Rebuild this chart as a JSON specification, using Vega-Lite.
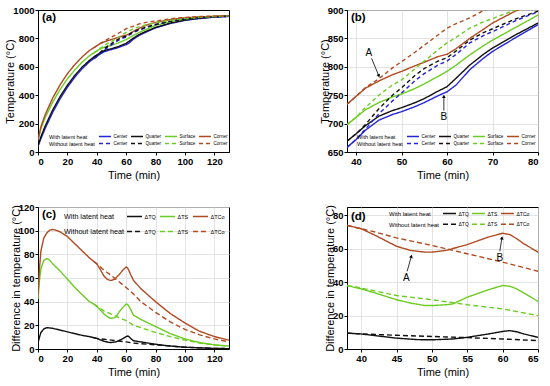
{
  "$schema": "https://vega.github.io/schema/vega-lite/v6.json",
  "padding": {"left": 4, "top": 4, "right": 5, "bottom": 4},
  "background": "white",
  "datasets": {
    "ab": [
      {"t":0,"v":40,"s":"Cw"},{"t":2,"v":94,"s":"Cw"},{"t":5,"v":169,"s":"Cw"},{"t":10,"v":279,"s":"Cw"},{"t":15,"v":374,"s":"Cw"},{"t":20,"v":456,"s":"Cw"},{"t":25,"v":526,"s":"Cw"},{"t":30,"v":586,"s":"Cw"},{"t":35,"v":635,"s":"Cw"},{"t":38,"v":658,"s":"Cw"},{"t":40,"v":672,"s":"Cw"},{"t":42,"v":688,"s":"Cw"},{"t":45,"v":706,"s":"Cw"},{"t":48,"v":716,"s":"Cw"},{"t":50,"v":721,"s":"Cw"},{"t":53,"v":730,"s":"Cw"},{"t":55,"v":737,"s":"Cw"},{"t":58,"v":749,"s":"Cw"},{"t":60,"v":756,"s":"Cw"},{"t":62,"v":768,"s":"Cw"},{"t":65,"v":795,"s":"Cw"},{"t":68,"v":815,"s":"Cw"},{"t":70,"v":827,"s":"Cw"},{"t":75,"v":851,"s":"Cw"},{"t":80,"v":874,"s":"Cw"},{"t":90,"v":905,"s":"Cw"},{"t":100,"v":927,"s":"Cw"},{"t":110,"v":940,"s":"Cw"},{"t":120,"v":950,"s":"Cw"},{"t":130,"v":955,"s":"Cw"},
      {"t":0,"v":45,"s":"Qw"},{"t":2,"v":108,"s":"Qw"},{"t":5,"v":186,"s":"Qw"},{"t":10,"v":296,"s":"Qw"},{"t":15,"v":390,"s":"Qw"},{"t":20,"v":470,"s":"Qw"},{"t":25,"v":539,"s":"Qw"},{"t":30,"v":598,"s":"Qw"},{"t":35,"v":645,"s":"Qw"},{"t":38,"v":669,"s":"Qw"},{"t":40,"v":682,"s":"Qw"},{"t":42,"v":696,"s":"Qw"},{"t":45,"v":713,"s":"Qw"},{"t":48,"v":723,"s":"Qw"},{"t":50,"v":728,"s":"Qw"},{"t":53,"v":737,"s":"Qw"},{"t":55,"v":744,"s":"Qw"},{"t":58,"v":757,"s":"Qw"},{"t":60,"v":765,"s":"Qw"},{"t":62,"v":780,"s":"Qw"},{"t":65,"v":803,"s":"Qw"},{"t":68,"v":822,"s":"Qw"},{"t":70,"v":833,"s":"Qw"},{"t":75,"v":856,"s":"Qw"},{"t":80,"v":877,"s":"Qw"},{"t":90,"v":908,"s":"Qw"},{"t":100,"v":929,"s":"Qw"},{"t":110,"v":942,"s":"Qw"},{"t":120,"v":951,"s":"Qw"},{"t":130,"v":956,"s":"Qw"},
      {"t":0,"v":82,"s":"Sw"},{"t":2,"v":164,"s":"Sw"},{"t":5,"v":245,"s":"Sw"},{"t":10,"v":351,"s":"Sw"},{"t":15,"v":440,"s":"Sw"},{"t":20,"v":515,"s":"Sw"},{"t":25,"v":578,"s":"Sw"},{"t":30,"v":632,"s":"Sw"},{"t":35,"v":678,"s":"Sw"},{"t":38,"v":698,"s":"Sw"},{"t":40,"v":711,"s":"Sw"},{"t":42,"v":724,"s":"Sw"},{"t":45,"v":737,"s":"Sw"},{"t":48,"v":747,"s":"Sw"},{"t":50,"v":752,"s":"Sw"},{"t":53,"v":762,"s":"Sw"},{"t":55,"v":770,"s":"Sw"},{"t":58,"v":783,"s":"Sw"},{"t":60,"v":792,"s":"Sw"},{"t":62,"v":803,"s":"Sw"},{"t":65,"v":821,"s":"Sw"},{"t":68,"v":837,"s":"Sw"},{"t":70,"v":847,"s":"Sw"},{"t":75,"v":869,"s":"Sw"},{"t":80,"v":891,"s":"Sw"},{"t":90,"v":918,"s":"Sw"},{"t":100,"v":937,"s":"Sw"},{"t":110,"v":948,"s":"Sw"},{"t":120,"v":954,"s":"Sw"},{"t":130,"v":957,"s":"Sw"},
      {"t":0,"v":85,"s":"Kw"},{"t":2,"v":179,"s":"Kw"},{"t":5,"v":266,"s":"Kw"},{"t":10,"v":380,"s":"Kw"},{"t":15,"v":473,"s":"Kw"},{"t":20,"v":551,"s":"Kw"},{"t":25,"v":615,"s":"Kw"},{"t":30,"v":669,"s":"Kw"},{"t":35,"v":715,"s":"Kw"},{"t":38,"v":734,"s":"Kw"},{"t":40,"v":748,"s":"Kw"},{"t":42,"v":762,"s":"Kw"},{"t":45,"v":775,"s":"Kw"},{"t":48,"v":786,"s":"Kw"},{"t":50,"v":792,"s":"Kw"},{"t":53,"v":802,"s":"Kw"},{"t":55,"v":808,"s":"Kw"},{"t":58,"v":818,"s":"Kw"},{"t":60,"v":822,"s":"Kw"},{"t":62,"v":832,"s":"Kw"},{"t":65,"v":850,"s":"Kw"},{"t":68,"v":866,"s":"Kw"},{"t":70,"v":877,"s":"Kw"},{"t":75,"v":898,"s":"Kw"},{"t":80,"v":912,"s":"Kw"},{"t":90,"v":933,"s":"Kw"},{"t":100,"v":945,"s":"Kw"},{"t":110,"v":952,"s":"Kw"},{"t":120,"v":956,"s":"Kw"},{"t":130,"v":958,"s":"Kw"},
      {"t":38,"v":658,"s":"Cn"},{"t":40,"v":672,"s":"Cn"},{"t":42,"v":690,"s":"Cn"},{"t":45,"v":717,"s":"Cn"},{"t":48,"v":740,"s":"Cn"},{"t":50,"v":754,"s":"Cn"},{"t":53,"v":776,"s":"Cn"},{"t":55,"v":788,"s":"Cn"},{"t":58,"v":803,"s":"Cn"},{"t":60,"v":810,"s":"Cn"},{"t":62,"v":822,"s":"Cn"},{"t":65,"v":842,"s":"Cn"},{"t":68,"v":855,"s":"Cn"},{"t":70,"v":862,"s":"Cn"},{"t":75,"v":881,"s":"Cn"},{"t":80,"v":897,"s":"Cn"},{"t":90,"v":920,"s":"Cn"},{"t":100,"v":936,"s":"Cn"},{"t":110,"v":946,"s":"Cn"},{"t":120,"v":952,"s":"Cn"},{"t":130,"v":956,"s":"Cn"},
      {"t":38,"v":669,"s":"Qn"},{"t":40,"v":682,"s":"Qn"},{"t":42,"v":698,"s":"Qn"},{"t":45,"v":726,"s":"Qn"},{"t":48,"v":750,"s":"Qn"},{"t":50,"v":763,"s":"Qn"},{"t":53,"v":785,"s":"Qn"},{"t":55,"v":797,"s":"Qn"},{"t":58,"v":810,"s":"Qn"},{"t":60,"v":816,"s":"Qn"},{"t":62,"v":828,"s":"Qn"},{"t":65,"v":847,"s":"Qn"},{"t":68,"v":860,"s":"Qn"},{"t":70,"v":867,"s":"Qn"},{"t":75,"v":884,"s":"Qn"},{"t":80,"v":898,"s":"Qn"},{"t":90,"v":921,"s":"Qn"},{"t":100,"v":937,"s":"Qn"},{"t":110,"v":947,"s":"Qn"},{"t":120,"v":953,"s":"Qn"},{"t":130,"v":957,"s":"Qn"},
      {"t":38,"v":698,"s":"Sn"},{"t":40,"v":711,"s":"Sn"},{"t":42,"v":728,"s":"Sn"},{"t":45,"v":750,"s":"Sn"},{"t":48,"v":768,"s":"Sn"},{"t":50,"v":777,"s":"Sn"},{"t":53,"v":797,"s":"Sn"},{"t":55,"v":810,"s":"Sn"},{"t":58,"v":830,"s":"Sn"},{"t":60,"v":842,"s":"Sn"},{"t":62,"v":852,"s":"Sn"},{"t":65,"v":868,"s":"Sn"},{"t":68,"v":879,"s":"Sn"},{"t":70,"v":885,"s":"Sn"},{"t":75,"v":900,"s":"Sn"},{"t":80,"v":910,"s":"Sn"},{"t":90,"v":928,"s":"Sn"},{"t":100,"v":941,"s":"Sn"},{"t":110,"v":950,"s":"Sn"},{"t":120,"v":955,"s":"Sn"},{"t":130,"v":958,"s":"Sn"},
      {"t":38,"v":734,"s":"Kn"},{"t":40,"v":748,"s":"Kn"},{"t":42,"v":763,"s":"Kn"},{"t":45,"v":779,"s":"Kn"},{"t":48,"v":798,"s":"Kn"},{"t":50,"v":809,"s":"Kn"},{"t":53,"v":826,"s":"Kn"},{"t":55,"v":838,"s":"Kn"},{"t":58,"v":856,"s":"Kn"},{"t":60,"v":868,"s":"Kn"},{"t":62,"v":876,"s":"Kn"},{"t":65,"v":886,"s":"Kn"},{"t":68,"v":899,"s":"Kn"},{"t":70,"v":905,"s":"Kn"},{"t":75,"v":916,"s":"Kn"},{"t":80,"v":923,"s":"Kn"},{"t":90,"v":938,"s":"Kn"},{"t":100,"v":948,"s":"Kn"},{"t":110,"v":954,"s":"Kn"},{"t":120,"v":957,"s":"Kn"},{"t":130,"v":959,"s":"Kn"}
    ],
    "cd": [
      {"t":0,"v":5,"s":"Qw"},{"t":1,"v":10,"s":"Qw"},{"t":2,"v":14,"s":"Qw"},{"t":4,"v":17,"s":"Qw"},{"t":6,"v":18,"s":"Qw"},{"t":10,"v":17.5,"s":"Qw"},{"t":15,"v":16,"s":"Qw"},{"t":20,"v":14.5,"s":"Qw"},{"t":25,"v":13,"s":"Qw"},{"t":30,"v":11.5,"s":"Qw"},{"t":35,"v":10.5,"s":"Qw"},{"t":38,"v":9.5,"s":"Qw"},{"t":40,"v":9,"s":"Qw"},{"t":42,"v":8,"s":"Qw"},{"t":45,"v":6.5,"s":"Qw"},{"t":48,"v":5.6,"s":"Qw"},{"t":50,"v":5.5,"s":"Qw"},{"t":53,"v":6,"s":"Qw"},{"t":55,"v":7,"s":"Qw"},{"t":58,"v":9,"s":"Qw"},{"t":60,"v":10.5,"s":"Qw"},{"t":61,"v":11,"s":"Qw"},{"t":62,"v":10.3,"s":"Qw"},{"t":63,"v":9,"s":"Qw"},{"t":65,"v":7,"s":"Qw"},{"t":70,"v":6,"s":"Qw"},{"t":80,"v":4,"s":"Qw"},{"t":90,"v":2.5,"s":"Qw"},{"t":100,"v":1.5,"s":"Qw"},{"t":110,"v":1,"s":"Qw"},{"t":120,"v":0.5,"s":"Qw"},{"t":130,"v":0.3,"s":"Qw"},
      {"t":0,"v":42,"s":"Sw"},{"t":1,"v":58,"s":"Sw"},{"t":2,"v":68,"s":"Sw"},{"t":4,"v":75,"s":"Sw"},{"t":6,"v":76.5,"s":"Sw"},{"t":8,"v":75,"s":"Sw"},{"t":10,"v":72,"s":"Sw"},{"t":15,"v":66,"s":"Sw"},{"t":20,"v":59,"s":"Sw"},{"t":25,"v":52,"s":"Sw"},{"t":30,"v":46,"s":"Sw"},{"t":35,"v":40,"s":"Sw"},{"t":38,"v":38,"s":"Sw"},{"t":40,"v":36,"s":"Sw"},{"t":42,"v":33.5,"s":"Sw"},{"t":45,"v":29.5,"s":"Sw"},{"t":47,"v":27.5,"s":"Sw"},{"t":49,"v":26,"s":"Sw"},{"t":50,"v":26,"s":"Sw"},{"t":52,"v":26.5,"s":"Sw"},{"t":53,"v":27,"s":"Sw"},{"t":55,"v":31,"s":"Sw"},{"t":58,"v":35.5,"s":"Sw"},{"t":60,"v":38,"s":"Sw"},{"t":61,"v":37.6,"s":"Sw"},{"t":62,"v":36,"s":"Sw"},{"t":63,"v":33.5,"s":"Sw"},{"t":65,"v":28.5,"s":"Sw"},{"t":70,"v":25,"s":"Sw"},{"t":80,"v":19,"s":"Sw"},{"t":90,"v":13,"s":"Sw"},{"t":100,"v":8.5,"s":"Sw"},{"t":110,"v":5.5,"s":"Sw"},{"t":120,"v":3.5,"s":"Sw"},{"t":130,"v":2.5,"s":"Sw"},
      {"t":0,"v":45,"s":"Kw"},{"t":1,"v":68,"s":"Kw"},{"t":2,"v":83,"s":"Kw"},{"t":4,"v":94,"s":"Kw"},{"t":6,"v":98,"s":"Kw"},{"t":8,"v":100.5,"s":"Kw"},{"t":10,"v":101,"s":"Kw"},{"t":12,"v":100.5,"s":"Kw"},{"t":15,"v":99,"s":"Kw"},{"t":20,"v":95,"s":"Kw"},{"t":25,"v":89,"s":"Kw"},{"t":30,"v":83,"s":"Kw"},{"t":35,"v":77,"s":"Kw"},{"t":38,"v":74,"s":"Kw"},{"t":40,"v":72,"s":"Kw"},{"t":42,"v":68,"s":"Kw"},{"t":45,"v":61.5,"s":"Kw"},{"t":47,"v":59,"s":"Kw"},{"t":49,"v":58,"s":"Kw"},{"t":50,"v":58,"s":"Kw"},{"t":52,"v":59,"s":"Kw"},{"t":55,"v":62.5,"s":"Kw"},{"t":58,"v":67,"s":"Kw"},{"t":60,"v":69.3,"s":"Kw"},{"t":61,"v":68.5,"s":"Kw"},{"t":62,"v":66,"s":"Kw"},{"t":63,"v":63,"s":"Kw"},{"t":65,"v":58,"s":"Kw"},{"t":70,"v":51,"s":"Kw"},{"t":80,"v":40,"s":"Kw"},{"t":90,"v":30,"s":"Kw"},{"t":100,"v":22,"s":"Kw"},{"t":110,"v":15,"s":"Kw"},{"t":120,"v":10.5,"s":"Kw"},{"t":130,"v":7.5,"s":"Kw"},
      {"t":38,"v":9.5,"s":"Qn"},{"t":40,"v":9,"s":"Qn"},{"t":42,"v":8.7,"s":"Qn"},{"t":45,"v":8.2,"s":"Qn"},{"t":50,"v":7.5,"s":"Qn"},{"t":55,"v":6.8,"s":"Qn"},{"t":60,"v":6,"s":"Qn"},{"t":65,"v":5,"s":"Qn"},{"t":70,"v":4.5,"s":"Qn"},{"t":80,"v":3.5,"s":"Qn"},{"t":90,"v":2.5,"s":"Qn"},{"t":100,"v":1.5,"s":"Qn"},{"t":110,"v":1,"s":"Qn"},{"t":120,"v":0.5,"s":"Qn"},{"t":130,"v":0.3,"s":"Qn"},
      {"t":38,"v":38,"s":"Sn"},{"t":40,"v":36.5,"s":"Sn"},{"t":45,"v":32,"s":"Sn"},{"t":50,"v":29.5,"s":"Sn"},{"t":55,"v":26.5,"s":"Sn"},{"t":60,"v":24,"s":"Sn"},{"t":65,"v":20,"s":"Sn"},{"t":70,"v":18,"s":"Sn"},{"t":80,"v":14,"s":"Sn"},{"t":90,"v":10.5,"s":"Sn"},{"t":100,"v":7.5,"s":"Sn"},{"t":110,"v":5,"s":"Sn"},{"t":120,"v":3.5,"s":"Sn"},{"t":130,"v":2.5,"s":"Sn"},
      {"t":38,"v":74,"s":"Kn"},{"t":40,"v":72,"s":"Kn"},{"t":42,"v":70,"s":"Kn"},{"t":45,"v":66.5,"s":"Kn"},{"t":50,"v":62,"s":"Kn"},{"t":55,"v":57,"s":"Kn"},{"t":60,"v":52,"s":"Kn"},{"t":65,"v":46.5,"s":"Kn"},{"t":70,"v":40,"s":"Kn"},{"t":80,"v":31,"s":"Kn"},{"t":90,"v":23,"s":"Kn"},{"t":100,"v":16.5,"s":"Kn"},{"t":110,"v":12,"s":"Kn"},{"t":120,"v":8.5,"s":"Kn"},{"t":130,"v":6,"s":"Kn"}
    ]
  },
  "columns": 2,
  "bounds": "flush",
  "spacing": {"row": 55, "column": 118},
  "resolve": {"scale": {"color": "independent", "strokeDash": "independent", "x": "independent", "y": "independent"}, "legend": {"color": "independent", "strokeDash": "independent"}},
  "concat": [
    {
      "width": 191, "height": 142,
      "title": {"text": "(a)", "anchor": "start", "frame": "group", "offset": -18, "dx": 4, "fontSize": 11.5, "fontWeight": "bold", "font": "Liberation Sans"},
      "layer": [
        {
          "data": {"name": "ab"},
          "mark": {"type": "line", "clip": true, "strokeWidth": 1.4},
          "encoding": {
            "x": {"field": "t", "type": "quantitative", "scale": {"domain": [0, 130], "nice": false}, "axis": {"title": "Time (min)", "values": [0, 20, 40, 60, 80, 100, 120], "grid": false, "format": "d", "labelOverlap": false}},
            "y": {"field": "v", "type": "quantitative", "scale": {"domain": [0, 1000], "nice": false}, "axis": {"title": "Temperature (°C)", "values": [0, 200, 400, 600, 800, 1000], "grid": false, "format": "d", "labelOverlap": false}},
            "color": {"field": "s", "type": "nominal", "scale": {"domain": ["Cw","Qw","Sw","Kw","Cn","Qn","Sn","Kn"], "range": ["#2424d8","#111111","#6ccc22","#b04a22","#2424d8","#111111","#6ccc22","#b04a22"]},
              "legend": {"title": ["With latent heat", "Without latent heat"], "titleOrient": "left", "titleAnchor": "middle", "titleBaseline": "middle", "orient": "none", "legendX": 11, "legendY": 123, "direction": "horizontal", "columns": 4, "symbolType": "stroke", "symbolSize": 144, "symbolStrokeWidth": 1.4, "clipHeight": 7, "labelFontSize": 4.6, "titleFontSize": 5.5, "titleFontWeight": "normal", "titleLineHeight": 7, "rowPadding": 0, "columnPadding": 2, "labelOffset": 1.5, "padding": 0, "titlePadding": 3,
                "labelExpr": "substring(datum.label,0,1)=='C' ? 'Center' : substring(datum.label,0,1)=='Q' ? 'Quarter' : substring(datum.label,0,1)=='S' ? 'Surface' : 'Corner'"}},
            "strokeDash": {"field": "s", "type": "nominal", "scale": {"domain": ["Cw","Qw","Sw","Kw","Cn","Qn","Sn","Kn"], "range": [[1,0],[1,0],[1,0],[1,0],[4,3],[4,3],[4,3],[4,3]]},
              "legend": {"title": ["With latent heat", "Without latent heat"], "titleOrient": "left", "titleAnchor": "middle", "titleBaseline": "middle", "orient": "none", "legendX": 11, "legendY": 123, "direction": "horizontal", "columns": 4, "symbolType": "stroke", "symbolSize": 144, "symbolStrokeWidth": 1.4, "clipHeight": 7, "labelFontSize": 4.6, "titleFontSize": 5.5, "titleFontWeight": "normal", "titleLineHeight": 7, "rowPadding": 0, "columnPadding": 2, "labelOffset": 1.5, "padding": 0, "titlePadding": 3,
                "labelExpr": "substring(datum.label,0,1)=='C' ? 'Center' : substring(datum.label,0,1)=='Q' ? 'Quarter' : substring(datum.label,0,1)=='S' ? 'Surface' : 'Corner'"}}
          }
        }
      ]
    },
    {
      "width": 191, "height": 142,
      "title": {"text": "(b)", "anchor": "start", "frame": "group", "offset": -18, "dx": 4, "fontSize": 11.5, "fontWeight": "bold", "font": "Liberation Sans"},
      "encoding": {
        "x": {"type": "quantitative", "scale": {"domain": [38, 80], "nice": false}, "axis": {"title": "Time (min)", "values": [40, 50, 60, 70, 80], "grid": true, "format": "d", "labelOverlap": false}},
        "y": {"type": "quantitative", "scale": {"domain": [650, 900], "nice": false}, "axis": {"title": "Temperature (°C)", "values": [650, 700, 750, 800, 850, 900], "grid": true, "format": "d", "labelOverlap": false}}
      },
      "layer": [
        {
          "data": {"name": "ab"},
          "mark": {"type": "line", "clip": true, "strokeWidth": 1.4},
          "encoding": {
            "x": {"field": "t", "type": "quantitative", "scale": {"domain": [38, 80], "nice": false}, "axis": {"title": "Time (min)", "values": [40, 50, 60, 70, 80], "grid": true, "format": "d", "labelOverlap": false}},
            "y": {"field": "v", "type": "quantitative", "scale": {"domain": [650, 900], "nice": false}, "axis": {"title": "Temperature (°C)", "values": [650, 700, 750, 800, 850, 900], "grid": true, "format": "d", "labelOverlap": false}},
            "color": {"field": "s", "type": "nominal", "scale": {"domain": ["Cw","Qw","Sw","Kw","Cn","Qn","Sn","Kn"], "range": ["#2424d8","#111111","#6ccc22","#b04a22","#2424d8","#111111","#6ccc22","#b04a22"]},
              "legend": {"title": ["With latent heat", "Without latent heat"], "titleOrient": "left", "titleAnchor": "middle", "titleBaseline": "middle", "orient": "none", "legendX": 10, "legendY": 123, "direction": "horizontal", "columns": 4, "symbolType": "stroke", "symbolSize": 144, "symbolStrokeWidth": 1.4, "clipHeight": 7, "labelFontSize": 4.6, "titleFontSize": 5.5, "titleFontWeight": "normal", "titleLineHeight": 7, "rowPadding": 0, "columnPadding": 2, "labelOffset": 1.5, "padding": 0, "titlePadding": 3,
                "labelExpr": "substring(datum.label,0,1)=='C' ? 'Center' : substring(datum.label,0,1)=='Q' ? 'Quarter' : substring(datum.label,0,1)=='S' ? 'Surface' : 'Corner'"}},
            "strokeDash": {"field": "s", "type": "nominal", "scale": {"domain": ["Cw","Qw","Sw","Kw","Cn","Qn","Sn","Kn"], "range": [[1,0],[1,0],[1,0],[1,0],[4,3],[4,3],[4,3],[4,3]]},
              "legend": {"title": ["With latent heat", "Without latent heat"], "titleOrient": "left", "titleAnchor": "middle", "titleBaseline": "middle", "orient": "none", "legendX": 10, "legendY": 123, "direction": "horizontal", "columns": 4, "symbolType": "stroke", "symbolSize": 144, "symbolStrokeWidth": 1.4, "clipHeight": 7, "labelFontSize": 4.6, "titleFontSize": 5.5, "titleFontWeight": "normal", "titleLineHeight": 7, "rowPadding": 0, "columnPadding": 2, "labelOffset": 1.5, "padding": 0, "titlePadding": 3,
                "labelExpr": "substring(datum.label,0,1)=='C' ? 'Center' : substring(datum.label,0,1)=='Q' ? 'Quarter' : substring(datum.label,0,1)=='S' ? 'Surface' : 'Corner'"}}
          }
        },
        {"data": {"values": [{}]}, "mark": {"type": "text", "fontSize": 10, "font": "Liberation Sans", "color": "black"}, "encoding": {"x": {"datum": 42.8}, "y": {"datum": 824}, "text": {"value": "A"}}},
        {"data": {"values": [{}]}, "mark": {"type": "rule", "strokeWidth": 0.8, "color": "black"}, "encoding": {"x": {"datum": 43.4}, "y": {"datum": 815}, "x2": {"datum": 45.0}, "y2": {"datum": 784}}},
        {"data": {"values": [{}]}, "mark": {"type": "point", "shape": "triangle-up", "filled": true, "size": 14, "angle": 160, "color": "black", "opacity": 1}, "encoding": {"x": {"datum": 45.0}, "y": {"datum": 784}}},
        {"data": {"values": [{}]}, "mark": {"type": "text", "fontSize": 10, "font": "Liberation Sans", "color": "black"}, "encoding": {"x": {"datum": 59.3}, "y": {"datum": 711}, "text": {"value": "B"}}},
        {"data": {"values": [{}]}, "mark": {"type": "rule", "strokeWidth": 0.8, "color": "black"}, "encoding": {"x": {"datum": 59.3}, "y": {"datum": 723}, "x2": {"datum": 59.3}, "y2": {"datum": 748}}},
        {"data": {"values": [{}]}, "mark": {"type": "point", "shape": "triangle-up", "filled": true, "size": 14, "angle": 0, "color": "black", "opacity": 1}, "encoding": {"x": {"datum": 59.3}, "y": {"datum": 748}}}
      ]
    },
    {
      "width": 191, "height": 142,
      "title": {"text": "(c)", "anchor": "start", "frame": "group", "offset": -18, "dx": 4, "fontSize": 11.5, "fontWeight": "bold", "font": "Liberation Sans"},
      "layer": [
        {
          "data": {"name": "cd"},
          "mark": {"type": "line", "clip": true, "strokeWidth": 1.4},
          "encoding": {
            "x": {"field": "t", "type": "quantitative", "scale": {"domain": [0, 130], "nice": false}, "axis": {"title": "Time (min)", "values": [0, 20, 40, 60, 80, 100, 120], "grid": true, "format": "d", "labelOverlap": false}},
            "y": {"field": "v", "type": "quantitative", "scale": {"domain": [0, 120], "nice": false}, "axis": {"title": "Difference in temperature (°C)", "values": [0, 20, 40, 60, 80, 100, 120], "grid": true, "format": "d", "labelOverlap": false}},
            "color": {"field": "s", "type": "nominal", "scale": {"domain": ["Qw","Sw","Kw","Qn","Sn","Kn"], "range": ["#111111","#6ccc22","#b04a22","#111111","#6ccc22","#b04a22"]},
              "legend": {"title": ["With latent heat", "Without latent heat"], "titleOrient": "left", "titleAnchor": "middle", "titleBaseline": "middle", "orient": "none", "legendX": 26, "legendY": 2, "direction": "horizontal", "columns": 3, "symbolType": "stroke", "symbolSize": 225, "symbolStrokeWidth": 1.4, "clipHeight": 15, "labelFontSize": 5.5, "titleFontSize": 7.2, "titleFontWeight": "normal", "titleLineHeight": 15, "rowPadding": 0, "columnPadding": 3, "labelOffset": 1.5, "padding": 0, "titlePadding": 2,
                "labelExpr": "substring(datum.label,0,1)=='Q' ? 'ΔTQ' : substring(datum.label,0,1)=='S' ? 'ΔTS' : 'ΔTCo'"}},
            "strokeDash": {"field": "s", "type": "nominal", "scale": {"domain": ["Qw","Sw","Kw","Qn","Sn","Kn"], "range": [[1,0],[1,0],[1,0],[5,3],[5,3],[5,3]]},
              "legend": {"title": ["With latent heat", "Without latent heat"], "titleOrient": "left", "titleAnchor": "middle", "titleBaseline": "middle", "orient": "none", "legendX": 26, "legendY": 2, "direction": "horizontal", "columns": 3, "symbolType": "stroke", "symbolSize": 225, "symbolStrokeWidth": 1.4, "clipHeight": 15, "labelFontSize": 5.5, "titleFontSize": 7.2, "titleFontWeight": "normal", "titleLineHeight": 15, "rowPadding": 0, "columnPadding": 3, "labelOffset": 1.5, "padding": 0, "titlePadding": 2,
                "labelExpr": "substring(datum.label,0,1)=='Q' ? 'ΔTQ' : substring(datum.label,0,1)=='S' ? 'ΔTS' : 'ΔTCo'"}}
          }
        }
      ]
    },
    {
      "width": 191, "height": 142,
      "title": {"text": "(d)", "anchor": "start", "frame": "group", "offset": -18, "dx": 4, "fontSize": 11.5, "fontWeight": "bold", "font": "Liberation Sans"},
      "encoding": {
        "x": {"type": "quantitative", "scale": {"domain": [38, 65], "nice": false}, "axis": {"title": "Time (min)", "values": [40, 45, 50, 55, 60, 65], "grid": true, "format": "d", "labelOverlap": false}},
        "y": {"type": "quantitative", "scale": {"domain": [0, 85], "nice": false}, "axis": {"title": "Difference in temperature (°C)", "values": [0, 20, 40, 60, 80], "grid": true, "format": "d", "labelOverlap": false}}
      },
      "layer": [
        {
          "data": {"name": "cd"},
          "mark": {"type": "line", "clip": true, "strokeWidth": 1.4},
          "encoding": {
            "x": {"field": "t", "type": "quantitative", "scale": {"domain": [38, 65], "nice": false}, "axis": {"title": "Time (min)", "values": [40, 45, 50, 55, 60, 65], "grid": true, "format": "d", "labelOverlap": false}},
            "y": {"field": "v", "type": "quantitative", "scale": {"domain": [0, 85], "nice": false}, "axis": {"title": "Difference in temperature (°C)", "values": [0, 20, 40, 60, 80], "grid": true, "format": "d", "labelOverlap": false}},
            "color": {"field": "s", "type": "nominal", "scale": {"domain": ["Qw","Sw","Kw","Qn","Sn","Kn"], "range": ["#111111","#6ccc22","#b04a22","#111111","#6ccc22","#b04a22"]},
              "legend": {"title": ["With latent heat", "Without latent heat"], "titleOrient": "left", "titleAnchor": "middle", "titleBaseline": "middle", "orient": "none", "legendX": 42, "legendY": 1, "direction": "horizontal", "columns": 3, "symbolType": "stroke", "symbolSize": 169, "symbolStrokeWidth": 1.4, "clipHeight": 10.5, "labelFontSize": 5, "titleFontSize": 6, "titleFontWeight": "normal", "titleLineHeight": 10.5, "rowPadding": 0, "columnPadding": 2, "labelOffset": 1.5, "padding": 0, "titlePadding": 2,
                "labelExpr": "substring(datum.label,0,1)=='Q' ? 'ΔTQ' : substring(datum.label,0,1)=='S' ? 'ΔTS' : 'ΔTCo'"}},
            "strokeDash": {"field": "s", "type": "nominal", "scale": {"domain": ["Qw","Sw","Kw","Qn","Sn","Kn"], "range": [[1,0],[1,0],[1,0],[5,3],[5,3],[5,3]]},
              "legend": {"title": ["With latent heat", "Without latent heat"], "titleOrient": "left", "titleAnchor": "middle", "titleBaseline": "middle", "orient": "none", "legendX": 42, "legendY": 1, "direction": "horizontal", "columns": 3, "symbolType": "stroke", "symbolSize": 169, "symbolStrokeWidth": 1.4, "clipHeight": 10.5, "labelFontSize": 5, "titleFontSize": 6, "titleFontWeight": "normal", "titleLineHeight": 10.5, "rowPadding": 0, "columnPadding": 2, "labelOffset": 1.5, "padding": 0, "titlePadding": 2,
                "labelExpr": "substring(datum.label,0,1)=='Q' ? 'ΔTQ' : substring(datum.label,0,1)=='S' ? 'ΔTS' : 'ΔTCo'"}}
          }
        },
        {"data": {"values": [{}]}, "mark": {"type": "text", "fontSize": 10, "font": "Liberation Sans", "color": "black"}, "encoding": {"x": {"datum": 46.4}, "y": {"datum": 42.5}, "text": {"value": "A"}}},
        {"data": {"values": [{}]}, "mark": {"type": "rule", "strokeWidth": 0.8, "color": "black"}, "encoding": {"x": {"datum": 46.5}, "y": {"datum": 46.5}, "x2": {"datum": 47.1}, "y2": {"datum": 55.5}}},
        {"data": {"values": [{}]}, "mark": {"type": "point", "shape": "triangle-up", "filled": true, "size": 14, "angle": 18, "color": "black", "opacity": 1}, "encoding": {"x": {"datum": 47.1}, "y": {"datum": 55.5}}},
        {"data": {"values": [{}]}, "mark": {"type": "text", "fontSize": 10, "font": "Liberation Sans", "color": "black"}, "encoding": {"x": {"datum": 59.6}, "y": {"datum": 54.5}, "text": {"value": "B"}}},
        {"data": {"values": [{}]}, "mark": {"type": "rule", "strokeWidth": 0.8, "color": "black"}, "encoding": {"x": {"datum": 59.6}, "y": {"datum": 58.5}, "x2": {"datum": 59.9}, "y2": {"datum": 66.5}}},
        {"data": {"values": [{}]}, "mark": {"type": "point", "shape": "triangle-up", "filled": true, "size": 14, "angle": 6, "color": "black", "opacity": 1}, "encoding": {"x": {"datum": 59.9}, "y": {"datum": 66.5}}}
      ]
    }
  ],
  "config": {
    "font": "Liberation Sans",
    "view": {"stroke": "black", "strokeWidth": 1},
    "axis": {"labelFont": "Liberation Sans", "labelFontSize": 9.5, "labelFontWeight": "bold", "labelColor": "black", "titleFont": "Liberation Sans", "titleFontSize": 11, "titleFontWeight": "normal", "titleColor": "black", "domainColor": "black", "tickColor": "black", "tickSize": 3, "gridColor": "#dcdcdc", "gridWidth": 0.8, "labelPadding": 1},
    "axisX": {"titlePadding": 4},
    "axisY": {"titlePadding": -3},
    "legend": {"labelFont": "Liberation Sans", "titleFont": "Liberation Sans", "labelColor": "black", "titleColor": "black"}
  }
}
